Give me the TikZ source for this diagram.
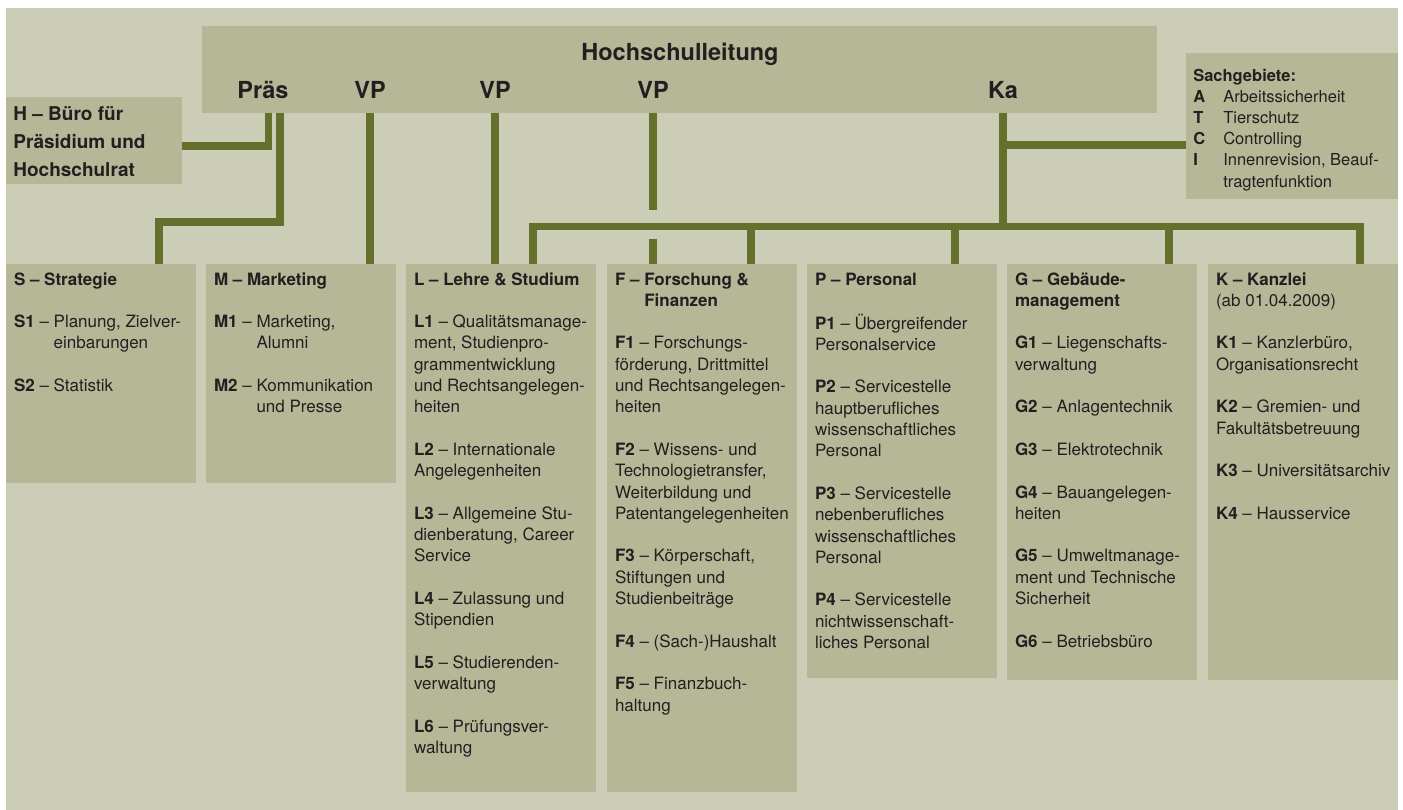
\documentclass[tikz,border=0pt]{standalone}
\usepackage{fontspec}
\setmainfont{TeX Gyre Heros}
\usetikzlibrary{fit}
\definecolor{bgc}{HTML}{CBCDB7}
\definecolor{boxc}{HTML}{B5B797}
\definecolor{linec}{HTML}{66702D}
\definecolor{txtc}{HTML}{231F20}
\newcommand\hg[1]{\phantom{\textbf{#1} – }}
\begin{document}
\begin{tikzpicture}[x=1pt,y=-1pt,
  box/.style={fill=boxc, draw=none, inner sep=0pt},
  conn/.style={draw=linec, line width=7.5pt},
  coltext/.style={anchor=north west, inner sep=0pt, align=left, text=txtc,
    font=\fontsize{17}{21.3}\selectfont, xshift=8pt, yshift=-6.1pt},
  head/.style={anchor=base, inner sep=0pt, text=txtc,
    font=\fontsize{23.5}{28}\selectfont\bfseries}
]
\fill[white] (0,0) rectangle (1403,810);
\useasboundingbox (0,0) rectangle (1403,810);
\fill[bgc] (6,8) rectangle (1398,810);

% boxes
\node[box, fit={(202,26) (1157,113)}] (HL) {};
\node[box, fit={(6,97) (182,184)}] (H) {};
\node[box, fit={(1186,53) (1398,199)}] (SG) {};
\node[box, fit={(6,264) (196,483)}] (S) {};
\node[box, fit={(206,264) (396,483)}] (M) {};
\node[box, fit={(406,264) (596,792)}] (L) {};
\node[box, fit={(607,264) (797,792)}] (F) {};
\node[box, fit={(807,264) (997,678)}] (P) {};
\node[box, fit={(1007,264) (1197,680)}] (G) {};
\node[box, fit={(1208,264) (1398,680)}] (K) {};

% top texts
\node[head] (title) at (680,61) {Hochschulleitung};
\node[head] (pras) at (263,98.5) {Präs};
\node[head] (vp1) at (370,98.5) {VP};
\node[head] (vp2) at (495,98.5) {VP};
\node[head] (vp3) at (653,98.5) {VP};
\node[head] (ka) at (1003,98.5) {Ka};

% connectors
\coordinate (prasA) at (268.5,113);
\coordinate (prasB) at (280,113);
\coordinate (sBend) at (159,222);
\draw[conn] (prasA) |- (H.east |- 0,146);
\draw[conn] (prasB) |- (sBend) -- (S.north -| sBend);
\draw[conn] (HL.south -| 370,0) -- (M.north -| 370,0);
\draw[conn] (HL.south -| 495,0) -- (L.north -| 495,0);
\coordinate (fgapA) at (653,210);
\coordinate (fgapB) at (653,239);
\draw[conn] (HL.south -| fgapA) -- (fgapA);
\draw[conn] (fgapB) -- (F.north -| fgapB);
\coordinate (barL) at (533,226.5);
\coordinate (barR) at (1360,226.5);
\coordinate (kaJ) at (1003,226.5);
\coordinate (kaB) at (1003,145);
\draw[conn] (L.north -| barL) -- (barL) -- (barR) -- (K.north -| barR);
\draw[conn] (HL.south -| kaJ) -- (kaJ);
\draw[conn] (kaB) -- (SG.west |- kaB);
\draw[conn] (F.north -| 751,0) -- (751,226.5);
\draw[conn] (P.north -| 955,0) -- (955,226.5);
\draw[conn] (G.north -| 1169,0) -- (1169,226.5);

% H text
\node[anchor=north west, inner sep=0pt, align=left, text=txtc,
  font=\fontsize{19}{28}\selectfont\bfseries, xshift=7.4pt, yshift=-4.1pt]
  (Htext) at (H.north west) {\strut H – Büro für\\Präsidium und\\Hochschulrat};

% Sachgebiete text
\node[anchor=north west, inner sep=0pt, align=left, text=txtc,
  font=\fontsize{16.5}{21.2}\selectfont, xshift=7.3pt, yshift=-13.2pt]
  (SGtext) at (SG.north west) {\strut\textbf{Sachgebiete:}\\
  \makebox[30pt][l]{\textbf{A}}Arbeitssicherheit\\
  \makebox[30pt][l]{\textbf{T}}Tierschutz\\
  \makebox[30pt][l]{\textbf{C}}Controlling\\
  \makebox[30pt][l]{\textbf{I}}Innenrevision, Beauf-\\
  \makebox[30pt][l]{}tragtenfunktion};

% column texts
\node[coltext] (Stext) at (S.north west) {\strut\textbf{S – Strategie}\\[21.3pt]
  \textbf{S1} – Planung, Zielver-\\
  \hg{S1}einbarungen\\[21.3pt]
  \textbf{S2} – Statistik};

\node[coltext] (Mtext) at (M.north west) {\strut\textbf{M – Marketing}\\[21.3pt]
  \textbf{M1} – Marketing,\\
  \hg{M1}Alumni\\[21.3pt]
  \textbf{M2} – Kommunikation\\
  \hg{M2}und Presse};

\node[coltext] (Ltext) at (L.north west) {\strut\textbf{L – Lehre \& Studium}\\[21.3pt]
  \textbf{L1} – Qualitätsmanage-\\
  ment, Studienpro-\\
  grammentwicklung\\
  und Rechtsangelegen-\\
  heiten\\[21.3pt]
  \textbf{L2} – Internationale\\
  Angelegenheiten\\[21.3pt]
  \textbf{L3} – Allgemeine Stu-\\
  dienberatung, Career\\
  Service\\[21.3pt]
  \textbf{L4} – Zulassung und\\
  Stipendien\\[21.3pt]
  \textbf{L5} – Studierenden-\\
  verwaltung\\[21.3pt]
  \textbf{L6} – Prüfungsver-\\
  waltung};

\node[coltext] (Ftext) at (F.north west) {\strut\textbf{F – Forschung \&}\\
  \phantom{\textbf{F – }}\textbf{Finanzen}\\[21.3pt]
  \textbf{F1} – Forschungs-\\
  förderung, Drittmittel\\
  und Rechtsangelegen-\\
  heiten\\[21.3pt]
  \textbf{F2} – Wissens- und\\
  Technologietransfer,\\
  Weiterbildung und\\
  Patentangelegenheiten\\[21.3pt]
  \textbf{F3} – Körperschaft,\\
  Stiftungen und\\
  Studienbeiträge\\[21.3pt]
  \textbf{F4} – (Sach-)Haushalt\\[21.3pt]
  \textbf{F5} – Finanzbuch-\\
  haltung};

\node[coltext] (Ptext) at (P.north west) {\strut\textbf{P – Personal}\\[21.3pt]
  \textbf{P1} – Übergreifender\\
  Personalservice\\[21.3pt]
  \textbf{P2} – Servicestelle\\
  hauptberufliches\\
  wissenschaftliches\\
  Personal\\[21.3pt]
  \textbf{P3} – Servicestelle\\
  nebenberufliches\\
  wissenschaftliches\\
  Personal\\[21.3pt]
  \textbf{P4} – Servicestelle\\
  nichtwissenschaft-\\
  liches Personal};

\node[coltext] (Gtext) at (G.north west) {\strut\textbf{G – Gebäude-}\\
  \textbf{management}\\[21.3pt]
  \textbf{G1} – Liegenschafts-\\
  verwaltung\\[21.3pt]
  \textbf{G2} – Anlagentechnik\\[21.3pt]
  \textbf{G3} – Elektrotechnik\\[21.3pt]
  \textbf{G4} – Bauangelegen-\\
  heiten\\[21.3pt]
  \textbf{G5} – Umweltmanage-\\
  ment und Technische\\
  Sicherheit\\[21.3pt]
  \textbf{G6} – Betriebsbüro};

\node[coltext] (Ktext) at (K.north west) {\strut\textbf{K – Kanzlei}\\
  (ab 01.04.2009)\\[21.3pt]
  \textbf{K1} – Kanzlerbüro,\\
  Organisationsrecht\\[21.3pt]
  \textbf{K2} – Gremien- und\\
  Fakultätsbetreuung\\[21.3pt]
  \textbf{K3} – Universitätsarchiv\\[21.3pt]
  \textbf{K4} – Hausservice};
\end{tikzpicture}
\end{document}
